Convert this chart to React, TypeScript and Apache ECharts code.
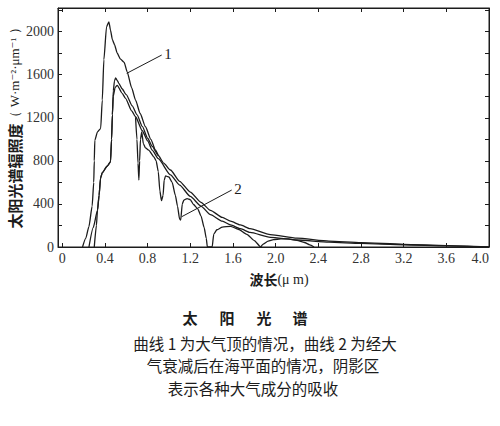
import { useEffect, useRef } from "react";
import * as echarts from "echarts";

const X_TICKS = [0, 0.4, 0.8, 1.2, 1.6, 2.0, 2.4, 2.8, 3.2, 3.6, 4.0];
const Y_TICKS = [0, 200, 400, 600, 800, 1000, 1200, 1400, 1600, 1800, 2000, 2200];
const Y_LABELS = [0, 400, 800, 1200, 1600, 2000];

// Curve 1: top of atmosphere (merges into the upper smooth line near 0.9 μm)
const CURVE1 = [
  [0.19, 0], [0.22, 80], [0.25, 190], [0.28, 380], [0.295, 600], [0.3, 800], [0.305, 990],
  [0.33, 1070], [0.36, 1100], [0.375, 1365], [0.39, 1740], [0.415, 2045], [0.437, 2092],
  [0.452, 2015], [0.47, 1925], [0.49, 1880], [0.515, 1800], [0.546, 1745], [0.58, 1715],
  [0.609, 1625], [0.65, 1480], [0.687, 1365], [0.73, 1240], [0.78, 1117], [0.83, 1000],
  [0.874, 900], [0.9, 850],
];

// Upper smooth curve (peak ~1570)
const UPPER = [
  [0.25, 0], [0.29, 180], [0.33, 340], [0.345, 480], [0.359, 640], [0.375, 690], [0.42, 750],
  [0.452, 790], [0.462, 1000], [0.47, 1230], [0.478, 1450], [0.49, 1545], [0.5, 1570],
  [0.515, 1548], [0.53, 1520], [0.56, 1470], [0.6, 1415], [0.656, 1310], [0.7, 1230],
  [0.75, 1120], [0.8, 1010], [0.843, 935], [0.9, 850], [0.95, 780], [1.014, 715], [1.1, 610],
  [1.2, 510], [1.3, 415], [1.389, 340], [1.5, 275], [1.577, 240], [1.67, 205], [1.76, 170],
  [1.95, 115], [2.2, 82], [2.5, 55], [2.8, 40], [3.2, 25], [3.6, 13], [4.0, 0],
];

// Lower smooth curve (peak ~1500)
const LOWER = [
  [0.3, 0], [0.32, 200], [0.33, 340], [0.345, 480], [0.359, 640], [0.375, 690], [0.42, 750],
  [0.452, 790], [0.462, 1000], [0.47, 1230], [0.478, 1400], [0.495, 1480], [0.515, 1502],
  [0.562, 1427], [0.593, 1381], [0.65, 1265], [0.687, 1210], [0.75, 1080], [0.8, 985],
  [0.843, 900], [0.9, 820], [1.014, 670], [1.1, 575], [1.2, 470], [1.3, 380], [1.389, 300],
  [1.5, 240], [1.577, 205], [1.67, 170], [1.76, 135], [1.95, 90], [2.2, 65], [2.5, 45],
  [2.8, 33], [3.2, 21], [3.6, 11], [4.0, 0],
];

// Curve 2: sea level with absorption bands
const CURVE2 = [
  [0.687, 1205], [0.7, 1000], [0.71, 780], [0.718, 622], [0.725, 800], [0.733, 1000],
  [0.745, 1070], [0.76, 960], [0.78, 920], [0.81, 900], [0.858, 838], [0.88, 800], [0.9, 700],
  [0.915, 520], [0.93, 430], [0.945, 480], [0.955, 620], [0.968, 660], [1.0, 650], [1.03, 600],
  [1.06, 480], [1.08, 380], [1.1, 260], [1.11, 250], [1.125, 400], [1.14, 436], [1.17, 450],
  [1.2, 440], [1.23, 395], [1.27, 355], [1.3, 290], [1.33, 180], [1.35, 80], [1.36, 0],
  [1.405, 0], [1.42, 120], [1.45, 160], [1.5, 185], [1.577, 192], [1.65, 165], [1.73, 118],
  [1.8, 60], [1.86, 0], [1.88, 25], [1.93, 55], [1.98, 68], [2.05, 76], [2.12, 76], [2.2, 62],
  [2.27, 42], [2.32, 20], [2.36, 0],
];

const LEADER1 = [[0.604, 1613], [0.932, 1783]];
const LEADER2 = [[1.119, 281], [1.588, 529]];

const INK = "#1c1c1c";
const SERIF = "'Liberation Serif', 'DejaVu Serif', serif";
const CJK = "'Noto Sans CJK SC', sans-serif";

const lineSeries = (name: string, data: number[][], extra: any = {}) => ({
  name,
  type: "line",
  data,
  showSymbol: false,
  symbol: "none",
  smooth: 0.2,
  smoothMonotone: "x",
  lineStyle: { color: INK, width: 1.3 },
  emphasis: { disabled: true },
  silent: true,
  ...extra,
});

const leader = (pts: number[][], text: string) => ({
  silent: true,
  animation: false,
  symbol: ["none", "none"],
  lineStyle: { color: INK, width: 1, type: "solid" },
  label: {
    show: true,
    position: "end",
    formatter: text,
    color: INK,
    fontFamily: SERIF,
    fontSize: 15,
    distance: 3,
  },
  emphasis: { disabled: true },
  data: [[{ coord: pts[0] }, { coord: pts[1] }]],
});

export default function App() {
  const ref = useRef<HTMLDivElement>(null);

  useEffect(() => {
    if (!ref.current) return;
    document.body.style.margin = "0";
    const chart = echarts.init(ref.current, undefined, { renderer: "svg" });

    const xBase = {
      type: "value",
      min: -0.04,
      max: 4.0,
      splitLine: { show: false },
      axisLine: { show: true, onZero: false, lineStyle: { color: INK, width: 1 } },
    };
    const yBase = {
      type: "value",
      min: 0,
      max: 2220,
      splitLine: { show: false },
      axisLine: { show: true, onZero: false, lineStyle: { color: INK, width: 1 } },
    };

    chart.setOption({
      animation: false,
      backgroundColor: "#ffffff",
      grid: {
        left: 58,
        right: 11,
        top: 8,
        bottom: 179,
        containLabel: false,
        outerBoundsMode: "none",
        show: true,
        borderColor: INK,
        borderWidth: 1,
      },
      xAxis: [
        {
          ...xBase,
          position: "bottom",
          axisTick: {
            show: true,
            inside: true,
            length: 4,
            customValues: X_TICKS,
            lineStyle: { color: INK },
          },
          axisLabel: {
            show: true,
            customValues: X_TICKS,
            margin: 4,
            color: "#333",
            fontFamily: SERIF,
            fontSize: 14,
            alignMaxLabel: "right",
            formatter: (v: number) => (v === 0 ? "0" : v.toFixed(1)),
          },
        },
        {
          ...xBase,
          position: "top",
          axisTick: {
            show: true,
            inside: true,
            length: 4,
            customValues: X_TICKS,
            lineStyle: { color: INK },
          },
          axisLabel: { show: false },
        },
      ],
      yAxis: [
        {
          ...yBase,
          position: "left",
          axisTick: {
            show: true,
            inside: true,
            length: 4,
            customValues: Y_TICKS,
            lineStyle: { color: INK },
          },
          axisLabel: {
            show: true,
            customValues: Y_LABELS,
            margin: 4,
            color: "#333",
            fontFamily: SERIF,
            fontSize: 14,
            formatter: (v: number) => String(Math.round(v)),
          },
        },
        {
          ...yBase,
          position: "right",
          axisTick: {
            show: true,
            inside: true,
            length: 4,
            customValues: Y_TICKS,
            lineStyle: { color: INK },
          },
          axisLabel: { show: false },
        },
      ],
      series: [
        lineSeries("曲线1", CURVE1, { markLine: leader(LEADER1, "1") }),
        lineSeries("上包络", UPPER),
        lineSeries("下包络", LOWER),
        lineSeries("曲线2", CURVE2, { markLine: leader(LEADER2, "2") }),
      ],
      graphic: [
        {
          type: "text",
          x: 14,
          y: 125,
          rotation: Math.PI / 2,
          silent: true,
          style: {
            text: "{a|太阳光谱辐照度}{b|（ W·m⁻²·μm⁻¹ ）}",
            align: "center",
            verticalAlign: "middle",
            fill: INK,
            rich: {
              a: { fontFamily: CJK, fontSize: 15, fontWeight: "bold", fill: INK },
              b: { fontFamily: SERIF, fontSize: 13, fill: INK },
            },
          },
        },
        {
          type: "text",
          x: 279,
          y: 279,
          silent: true,
          style: {
            text: "{a|波长}{b|(μ m)}",
            align: "center",
            verticalAlign: "middle",
            fill: INK,
            rich: {
              a: { fontFamily: CJK, fontSize: 14, fontWeight: "bold", fill: INK },
              b: { fontFamily: SERIF, fontSize: 14, fill: INK },
            },
          },
        },
        ...["太", "阳", "光", "谱"].map((ch, i) => ({
          type: "text",
          x: [190, 227, 264, 300][i],
          y: 317,
          silent: true,
          style: {
            text: ch,
            align: "center",
            verticalAlign: "middle",
            fontFamily: CJK,
            fontSize: 15,
            fontWeight: "bold",
            fill: INK,
          },
        })),
        ...[
          ["曲线 1 为大气顶的情况，曲线 2 为经大", 265, 343],
          ["气衰减后在海平面的情况，阴影区", 263, 365],
          ["表示各种大气成分的吸收", 253, 388],
        ].map(([t, x, y]) => ({
          type: "text",
          x: x as number,
          y: y as number,
          silent: true,
          style: {
            text: t as string,
            align: "center",
            verticalAlign: "middle",
            fontFamily: CJK,
            fontSize: 15.5,
            fill: INK,
          },
        })),
      ],
    });

    return () => chart.dispose();
  }, []);

  return <div ref={ref} style={{ width: 500, height: 426 }} />;
}
